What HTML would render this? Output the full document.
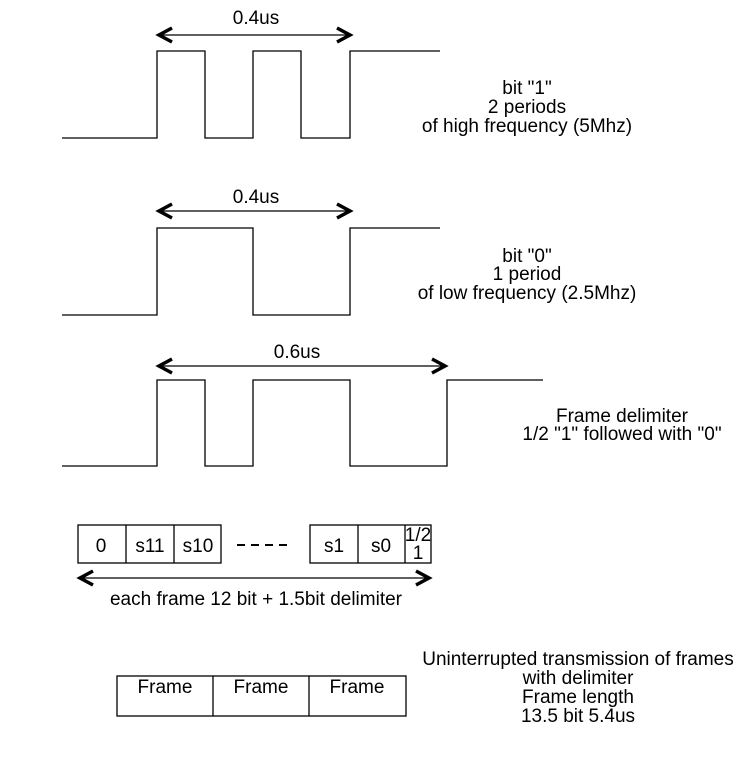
<!DOCTYPE html>
<html><head><style>body{margin:0;background:#fff}svg{display:block}text{font-family:"Liberation Sans",Arial,sans-serif;font-size:19px;fill:#000}</style></head><body>
<svg width="751" height="759" viewBox="0 0 751 759">
<g fill="none" stroke="#000" stroke-width="1.3">
<polyline points="62,138 157,138 157,51 205,51 205,138 253,138 253,51 301,51 301,138 350,138 350,51 440,51"/>
<polyline points="62,315 157,315 157,228 253,228 253,315 350,315 350,228 440,228"/>
<polyline points="62,466 157,466 157,380 205,380 205,466 253,466 253,380 350,380 350,466 447,466 447,380 543,380"/>
<line x1="158" y1="35" x2="351" y2="35"/>
<line x1="158" y1="211" x2="351" y2="211"/>
<line x1="158" y1="366" x2="446" y2="366"/>
<line x1="79" y1="578" x2="430" y2="578"/>
<rect x="78" y="525" width="143" height="38"/>
<line x1="126" y1="525" x2="126" y2="563"/><line x1="174" y1="525" x2="174" y2="563"/>
<rect x="310" y="525" width="121" height="38"/>
<line x1="358" y1="525" x2="358" y2="563"/><line x1="405" y1="525" x2="405" y2="563"/>
<rect x="117" y="676" width="289" height="40"/>
<line x1="213" y1="676" x2="213" y2="716"/><line x1="309" y1="676" x2="309" y2="716"/>
</g>
<g fill="none" stroke="#000" stroke-width="3.5">
<polyline points="172,28 159,35 172,42"/><polyline points="337,28 350,35 337,42"/>
<polyline points="172,204 159,211 172,218"/><polyline points="337,204 350,211 337,218"/>
<polyline points="172,359 159,366 172,373"/><polyline points="432,359 445,366 432,373"/>
<polyline points="93,571 80,578 93,585"/><polyline points="416,571 429,578 416,585"/>
</g>
<g stroke="#000" stroke-width="2"><line x1="237" y1="545" x2="245" y2="545"/><line x1="251" y1="545" x2="259" y2="545"/><line x1="265" y1="545" x2="273" y2="545"/><line x1="279" y1="545" x2="287" y2="545"/></g>
<g text-anchor="middle">
<text x="256" y="24">0.4us</text><text x="256" y="203">0.4us</text><text x="297" y="358">0.6us</text>
<text x="527" y="94">bit "1"</text><text x="527" y="113">2 periods</text><text x="527" y="132">of high frequency (5Mhz)</text>
<text x="527" y="262">bit "0"</text><text x="527" y="280">1 period</text><text x="527" y="299">of low frequency (2.5Mhz)</text>
<text x="622" y="422">Frame delimiter</text><text x="622" y="440">1/2 "1" followed with "0"</text>
<text x="101" y="552">0</text><text x="150" y="552">s11</text><text x="198" y="552">s10</text>
<text x="334" y="552">s1</text><text x="381" y="552">s0</text>
<text x="418" y="541" font-size="17">1/2</text><text x="418" y="559" font-size="17">1</text>
<text x="256" y="605">each frame 12 bit + 1.5bit delimiter</text>
<text x="165" y="693">Frame</text><text x="261" y="693">Frame</text><text x="357" y="693">Frame</text>
<text x="578" y="665">Uninterrupted transmission of frames</text><text x="578" y="684">with delimiter</text>
<text x="578" y="703">Frame length</text><text x="578" y="722">13.5 bit 5.4us</text>
</g>
</svg></body></html>
